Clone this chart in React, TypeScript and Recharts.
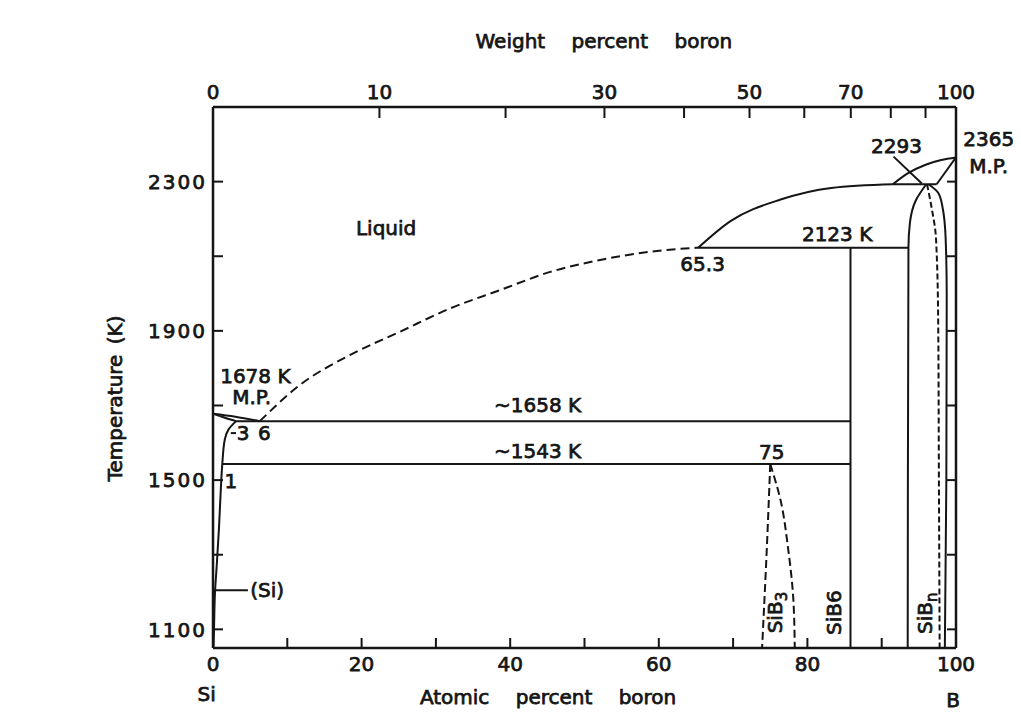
import React from 'react';
import { LineChart, Line, XAxis, YAxis, ReferenceDot } from 'recharts';

const INK = '#151515';
const FONT = '"DejaVu Sans", Arial, sans-serif';

// axes
const atomicTicks = [0, 10, 20, 30, 40, 50, 60, 70, 80, 90, 100];
const atomicLabels = ['0', '', '20', '', '40', '', '60', '', '80', '', '100'];
const weightTicks = [0, 10, 20, 30, 40, 50, 60, 70, 80, 90, 100];
const weightLabels = ['0', '10', '', '30', '', '50', '', '70', '', '', '100'];
const tempTicks = [1100, 1300, 1500, 1700, 1900, 2100, 2300];
const tempLabels = ['1100', '', '1500', '', '1900', '', '2300'];

// weight % -> atomic % for the top axis
const M_B = 10.81;
const M_SI = 28.086;
const wtToAt = (w: number) => (100 * (w / M_B)) / (w / M_B + (100 - w) / M_SI);
const weightTickPos = weightTicks.map(wtToAt);

// phase boundaries: x = atomic % B, t = temperature (K)
const siLiquidus = [{ x: 0, t: 1678 }, { x: 3, t: 1670 }, { x: 6.3, t: 1658 }];
const siSolidus = [{ x: 0, t: 1678 }, { x: 1.6, t: 1667 }, { x: 3.1, t: 1658 }];
const siSolvus = [
  { x: 3.1, t: 1658 }, { x: 2.1, t: 1636 }, { x: 1.6, t: 1610 }, { x: 1.25, t: 1543 },
  { x: 1.05, t: 1475 }, { x: 0.8, t: 1370 }, { x: 0.5, t: 1270 }, { x: 0.27, t: 1200 },
  { x: 0.13, t: 1095 }, { x: 0.07, t: 1050 },
];
const eutectic = [{ x: 3.1, t: 1658 }, { x: 85.8, t: 1658 }];
const eutectoid = [{ x: 1.25, t: 1543 }, { x: 85.8, t: 1543 }];
const liquidusDashed = [
  { x: 6.3, t: 1658 }, { x: 11.7, t: 1755 }, { x: 18.4, t: 1835 }, { x: 25.2, t: 1898 },
  { x: 31.9, t: 1960 }, { x: 38.6, t: 2009 }, { x: 45.4, t: 2058 }, { x: 52.1, t: 2090 },
  { x: 58.8, t: 2112 }, { x: 65.3, t: 2123 },
];
const liquidusB = [
  { x: 65.3, t: 2123 }, { x: 69.7, t: 2195 }, { x: 76.4, t: 2252 }, { x: 83.2, t: 2283 },
  { x: 91.5, t: 2293 },
];
const liquidusTop = [
  { x: 91.5, t: 2293 }, { x: 93.5, t: 2322 }, { x: 96, t: 2346 }, { x: 98, t: 2358 },
  { x: 100, t: 2365 },
];
const peritectic2123 = [{ x: 65.3, t: 2123 }, { x: 93.6, t: 2123 }];
const peritectic2293 = [{ x: 91.5, t: 2293 }, { x: 97.4, t: 2293 }];
const bSolidus = [{ x: 97.4, t: 2293 }, { x: 100, t: 2365 }];
const sib6 = [{ x: 85.8, t: 2123 }, { x: 85.8, t: 1050 }];
const sibnLeft = [
  { x: 96.0, t: 2293 }, { x: 94.6, t: 2250 }, { x: 93.8, t: 2190 }, { x: 93.6, t: 2123 },
  { x: 93.5, t: 1050 },
];
const sibnRight = [
  { x: 96.3, t: 2293 }, { x: 97.6, t: 2270 }, { x: 98.2, t: 2230 }, { x: 98.6, t: 2150 },
  { x: 98.75, t: 2000 }, { x: 98.7, t: 1500 }, { x: 98.5, t: 1050 },
];
const sibnDashed = [
  { x: 96.1, t: 2293 }, { x: 96.7, t: 2232 }, { x: 97.3, t: 2150 }, { x: 97.6, t: 1930 },
  { x: 97.7, t: 1500 }, { x: 97.8, t: 1050 },
];
const sib3Left = [{ x: 75, t: 1543 }, { x: 74.5, t: 1300 }, { x: 73.9, t: 1050 }];
const sib3Right = [
  { x: 75, t: 1543 }, { x: 76.4, t: 1445 }, { x: 77.4, t: 1317 }, { x: 78.1, t: 1183 },
  { x: 78.3, t: 1050 },
];
const leader2293 = [{ x: 91.6, t: 2367 }, { x: 95.4, t: 2295 }];
const leaderSi = [{ x: 0, t: 1205 }, { x: 4.7, t: 1205 }];
const leader3 = [{ x: 2.4, t: 1626 }, { x: 3.1, t: 1626 }];

// annotations (data coordinates)
const notes = [
  { text: 'Liquid', x: 23.3, t: 2175 },
  { text: '2123 K', x: 84.0, t: 2160 },
  { text: '65.3', x: 65.9, t: 2081 },
  { text: '2293', x: 92.0, t: 2396 },
  { text: '2365', x: 104.4, t: 2414 },
  { text: 'M.P.', x: 104.4, t: 2343 },
  { text: '1678 K', x: 5.7, t: 1780 },
  { text: 'M.P.', x: 5.2, t: 1722 },
  { text: '3', x: 4.05, t: 1626 },
  { text: '6', x: 6.9, t: 1626 },
  { text: '~1658 K', x: 43.7, t: 1701 },
  { text: '~1543 K', x: 43.7, t: 1579 },
  { text: '75', x: 75.2, t: 1577 },
  { text: '1', x: 2.4, t: 1497 },
  { text: '(Si)', x: 7.3, t: 1205 },
  { text: 'Si', x: -0.85, t: 926 },
  { text: 'B', x: 99.6, t: 910 },
];
const phaseNames = [
  { name: 'SiB', sub: '3', x: 75.6, t: 1145 },
  { name: 'SiB6', sub: '', x: 83.5, t: 1145 },
  { name: 'SiB', sub: 'n', x: 95.8, t: 1143 },
];
const titles = [
  { text: 'Weight percent boron', x: 52.6, t: 2677, rotate: false },
  { text: 'Atomic percent boron', x: 45.1, t: 920, rotate: false },
  { text: 'Temperature (K)', x: -13.2, t: 1719, rotate: true },
];

const textProps = {
  fontFamily: FONT,
  fontSize: 20,
  fill: INK,
  stroke: INK,
  strokeWidth: 0.75,
};

const findIdx = (arr: number[], v: number) => arr.findIndex((a) => Math.abs(a - v) < 1e-6);

const BottomTick = (p: any) => {
  const label = atomicLabels[findIdx(atomicTicks, p.payload.value)];
  return (
    <g>
      <line x1={p.x} y1={p.y} x2={p.x} y2={p.y - 10} stroke={INK} strokeWidth={2} />
      {label ? <text x={p.x} y={p.y + 23} textAnchor="middle" {...textProps}>{label}</text> : null}
    </g>
  );
};

const TopTick = (p: any) => {
  const label = weightLabels[findIdx(weightTickPos, p.payload.value)];
  return (
    <g>
      <line x1={p.x} y1={p.y} x2={p.x} y2={p.y + 11} stroke={INK} strokeWidth={2} />
      {label ? <text x={p.x} y={p.y - 8} textAnchor="middle" {...textProps}>{label}</text> : null}
    </g>
  );
};

const LeftTick = (p: any) => {
  const label = tempLabels[findIdx(tempTicks, p.payload.value)];
  return (
    <g>
      <line x1={p.x} y1={p.y} x2={p.x + 10} y2={p.y} stroke={INK} strokeWidth={2} />
      {label ? (
        <text x={p.x - 6} y={p.y} dy="0.36em" textAnchor="end" letterSpacing={2} {...textProps}>{label}</text>
      ) : null}
    </g>
  );
};

const RightTick = (p: any) => (
  <line x1={p.x} y1={p.y} x2={p.x - 9} y2={p.y} stroke={INK} strokeWidth={2} />
);

const textShape = (content: React.ReactNode, rotate: boolean, extra: any = {}) => (p: any) => (
  <text
    x={p.cx}
    y={p.cy}
    dy="0.36em"
    textAnchor="middle"
    transform={rotate ? `rotate(-90 ${p.cx} ${p.cy})` : undefined}
    {...textProps}
    {...extra}
  >
    {content}
  </text>
);

const curve = (data: any[], type: any, key: string, dash?: string) => (
  <Line
    key={key}
    xAxisId="bottom"
    yAxisId="left"
    data={data}
    dataKey="t"
    type={type}
    stroke={INK}
    strokeWidth={2}
    strokeDasharray={dash}
    dot={false}
    activeDot={false}
    isAnimationActive={false}
  />
);

const axisLine = { stroke: INK, strokeWidth: 2.5 };

export default function App() {
  return (
    <div style={{ width: 1013, height: 708, overflow: 'visible' }}>
      <LineChart width={1013} height={708} margin={{ top: 59, right: 55, bottom: 38, left: 145 }} style={{ overflow: 'visible' }}>
        <XAxis
          xAxisId="bottom"
          orientation="bottom"
          type="number"
          dataKey="x"
          domain={[0, 100]}
          allowDataOverflow
          ticks={atomicTicks}
          interval={0}
          height={30}
          tickSize={0}
          tickMargin={0}
          tickLine={false}
          axisLine={axisLine}
          tick={<BottomTick />}
        />
        <XAxis
          xAxisId="top"
          orientation="top"
          type="number"
          dataKey="x"
          domain={[0, 100]}
          allowDataOverflow
          ticks={weightTickPos}
          interval={0}
          height={40}
          tickSize={0}
          tickMargin={0}
          tickLine={false}
          axisLine={axisLine}
          tick={<TopTick />}
        />
        <YAxis
          yAxisId="left"
          type="number"
          domain={[1050, 2500]}
          allowDataOverflow
          ticks={tempTicks}
          interval={0}
          width={60}
          tickSize={0}
          tickMargin={0}
          tickLine={false}
          axisLine={axisLine}
          tick={<LeftTick />}
        />
        <YAxis
          yAxisId="right"
          orientation="right"
          type="number"
          domain={[1050, 2500]}
          allowDataOverflow
          ticks={tempTicks}
          interval={0}
          width={10}
          tickSize={0}
          tickMargin={0}
          tickLine={false}
          axisLine={axisLine}
          tick={<RightTick />}
        />

        {curve(siLiquidus, 'monotoneX', 'siLiq')}
        {curve(siSolidus, 'monotoneX', 'siSol')}
        {curve(siSolvus, 'monotoneY', 'siSolv')}
        {curve(eutectic, 'linear', 'eut')}
        {curve(eutectoid, 'linear', 'eutd')}
        {curve(liquidusDashed, 'monotoneX', 'liqD', '9 5')}
        {curve(liquidusB, 'monotoneX', 'liqB')}
        {curve(liquidusTop, 'monotoneX', 'liqT')}
        {curve(peritectic2123, 'linear', 'p2123')}
        {curve(peritectic2293, 'linear', 'p2293')}
        {curve(bSolidus, 'linear', 'bSol')}
        {curve(sib6, 'linear', 'sib6')}
        {curve(sibnLeft, 'monotoneY', 'sibnL')}
        {curve(sibnRight, 'monotoneY', 'sibnR')}
        {curve(sibnDashed, 'monotoneY', 'sibnD', '6 3')}
        {curve(sib3Left, 'monotoneY', 'sib3L', '8 4')}
        {curve(sib3Right, 'monotoneY', 'sib3R', '8 4')}
        {curve(leader2293, 'linear', 'ld2293')}
        {curve(leaderSi, 'linear', 'ldSi')}
        {curve(leader3, 'linear', 'ld3')}

        {notes.map((n, i) => (
          <ReferenceDot
            key={`n${i}`}
            xAxisId="bottom"
            yAxisId="left"
            x={n.x}
            y={n.t}
            r={0}
            ifOverflow="visible"
            shape={textShape(n.text, false)}
          />
        ))}
        {phaseNames.map((n, i) => (
          <ReferenceDot
            key={`p${i}`}
            xAxisId="bottom"
            yAxisId="left"
            x={n.x}
            y={n.t}
            r={0}
            ifOverflow="visible"
            shape={textShape(
              <>
                <tspan>{n.name}</tspan>
                {n.sub ? <tspan dy={5} fontSize={15}>{n.sub}</tspan> : null}
              </>,
              true,
            )}
          />
        ))}
        {titles.map((n, i) => (
          <ReferenceDot
            key={`t${i}`}
            xAxisId="bottom"
            yAxisId="left"
            x={n.x}
            y={n.t}
            r={0}
            ifOverflow="visible"
            shape={textShape(n.text, n.rotate, { wordSpacing: n.rotate ? 4 : 20 })}
          />
        ))}
      </LineChart>
    </div>
  );
}
